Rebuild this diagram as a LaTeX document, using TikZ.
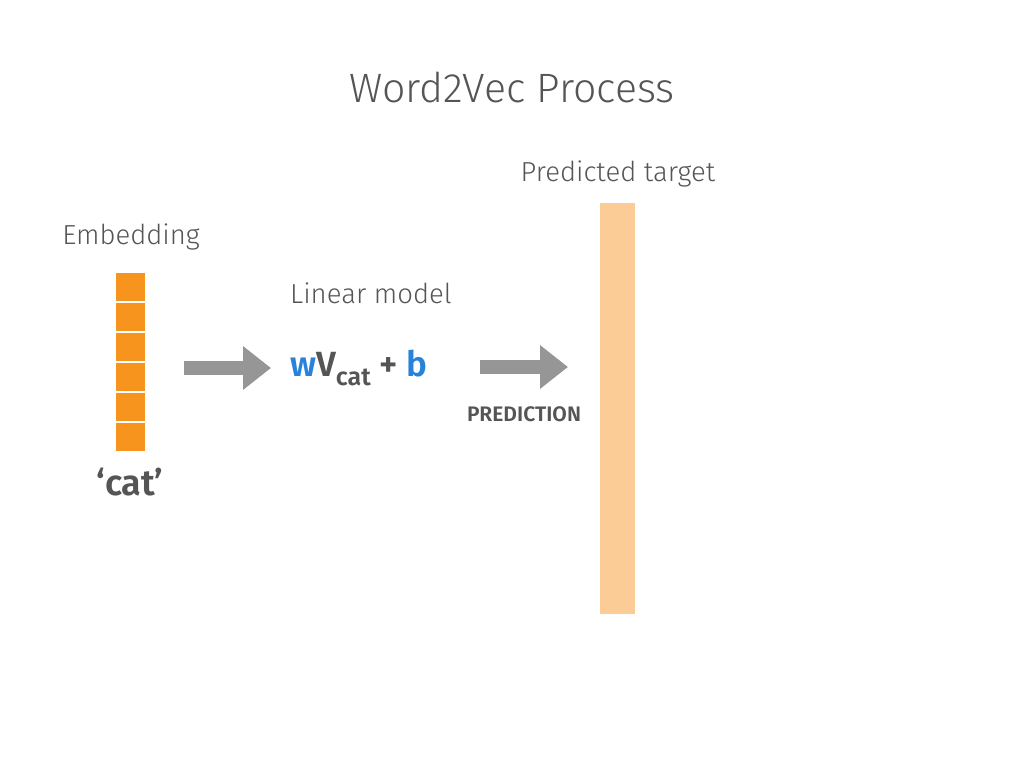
\documentclass[tikz,border=0pt]{standalone}
\usepackage{fontspec}
\setmainfont{Fira Sans}[UprightFont=* Light, BoldFont=* SemiBold]
\usepackage{xcolor}
\usetikzlibrary{arrows.meta}
\usetikzlibrary{positioning}
\definecolor{txtgray}{RGB}{85,85,85}
\definecolor{embcolor}{RGB}{247,148,30}
\definecolor{targetcolor}{RGB}{252,204,150}
\definecolor{arrowgray}{RGB}{150,150,150}
\definecolor{wblue}{RGB}{40,130,220}
\newcommand{\subtxt}[1]{\raisebox{-0.28em}{\fontsize{25}{29}\selectfont #1}}

\begin{document}
\begin{tikzpicture}[x=1pt,y=-1pt,
    label text/.style={text=txtgray,inner sep=0pt,font=\fontsize{27.5}{32}\selectfont},
    cell/.style={fill=embcolor,minimum width=29pt,minimum height=28pt,inner sep=0pt},
    fat arrow/.style={draw=arrowgray,line width=14pt,-{Triangle[length=28pt,width=42pt]}}]
  \useasboundingbox (0,0) rectangle (1024,768);
  \node[label text,font=\fontsize{41}{48}\selectfont] (title) at (512,87) {Word2Vec Process};
  % embedding vector
  \foreach \i in {0,...,5}
    \node[cell] (cell-\i) at (130.5,286.5+30*\i) {};
  \node[label text] (embtitle) at (131,237) {Embedding};
  \node[label text,font=\bfseries\fontsize{36}{42}\selectfont] (word) at (130,482) {‘cat’};
  % linear model
  \node[label text,anchor=west] (lintitle) at (290,293) {Linear model};
  \node[label text,anchor=west,font=\bfseries\fontsize{35}{42}\selectfont] (model) at (290,368)
    {\textcolor{wblue}{w}V\subtxt{cat} + \textcolor{wblue}{b}};
  % predicted target
  \node[fill=targetcolor,minimum width=35pt,minimum height=411pt,inner sep=0pt] (target) at (617.5,408.5) {};
  \node[label text] (targettitle) at (618,174) {Predicted target};
  \node[label text,font=\bfseries\fontsize{21}{25}\selectfont] (predlabel) at (524,414) {PREDICTION};
  \coordinate (a1s) at (184,368);
  \coordinate (a1e) at (271,368);
  \coordinate (a2s) at (480,367);
  \coordinate (a2e) at (568,367);
  \draw[fat arrow] (a1s) -- (a1e);
  \draw[fat arrow] (a2s) -- (a2e);
\end{tikzpicture}
\end{document}
